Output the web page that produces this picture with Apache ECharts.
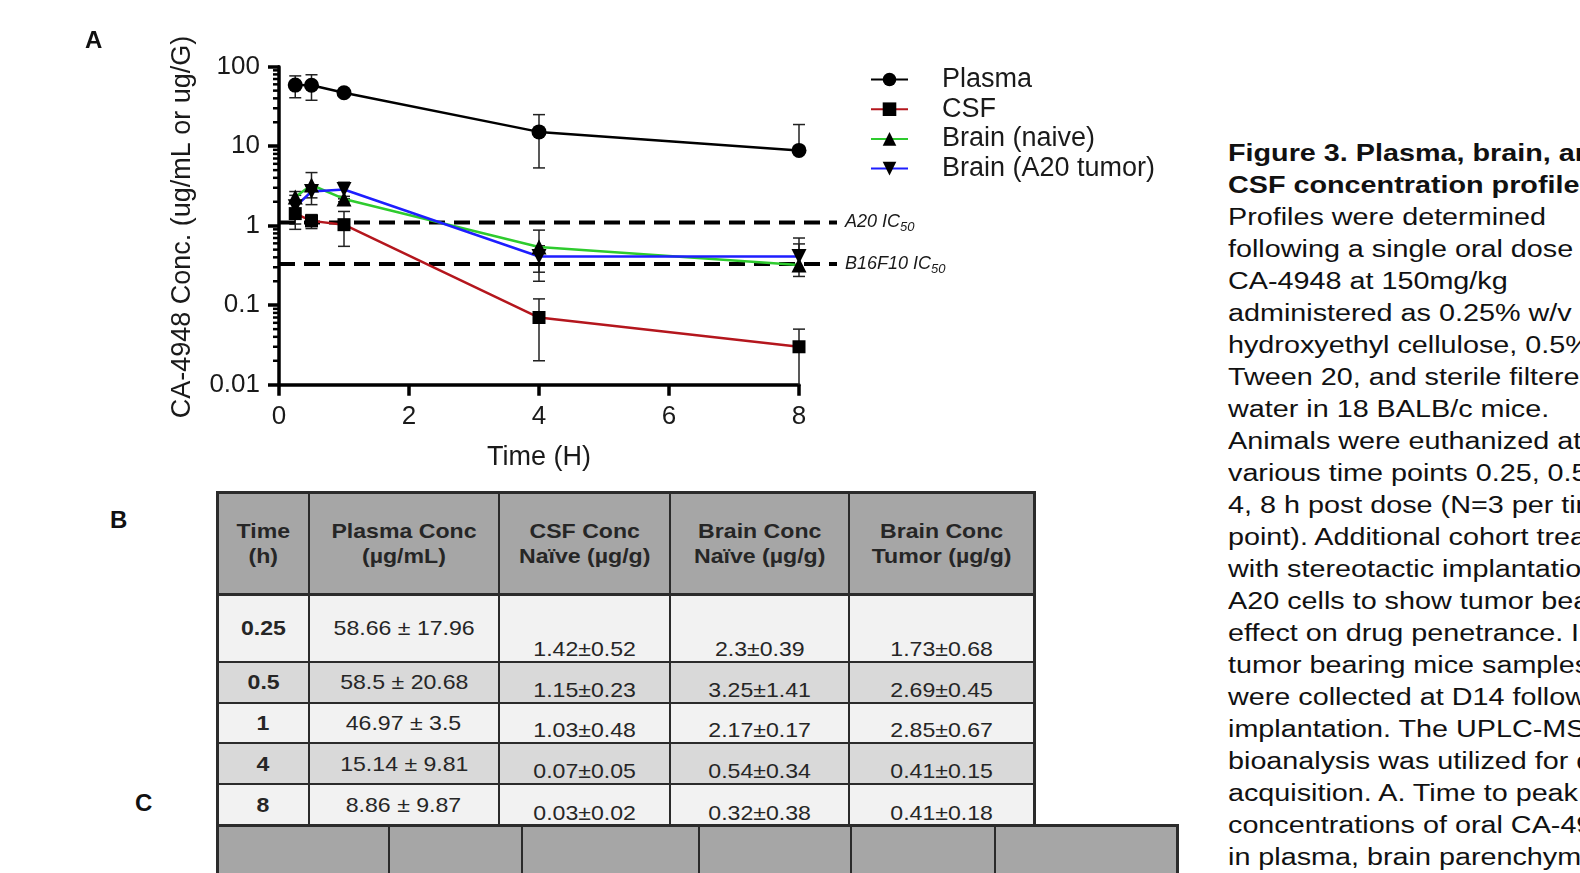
<!DOCTYPE html>
<html>
<head>
<meta charset="utf-8">
<script src="https://cdn.jsdelivr.net/npm/echarts@6/dist/echarts.min.js"></script>
<style>
  html, body { margin: 0; padding: 0; width: 1580px; height: 873px; overflow: hidden; background: #fff;
    font-family: 'Liberation Sans', Arial, sans-serif; color: #1a1a1a; }
  #chart { position: absolute; left: 0; top: 0; width: 1200px; height: 490px; }
  .panel-label { position: absolute; font-weight: bold; font-size: 24px; line-height: 24px; color: #111; }
  .cell { position: absolute; box-sizing: border-box; display: flex; justify-content: center; align-items: center;
    font-size: 21px; line-height: 24px; text-align: center; color: #262626; }
  .cell span { display: inline-block; transform: scaleX(1.1); white-space: nowrap; }
  .rule { position: absolute; background: #2b2b2b; }
  .caption { position: absolute; left: 1228px; height: 32px; white-space: nowrap; font-size: 23px; line-height: 32px;
    transform-origin: 0 50%; transform: scaleX(1.25); color: #111; }
</style>
</head>
<body>
<div id="chart"></div>
<div class="panel-label" style="left:85px;top:28px;">A</div>
<div class="panel-label" style="left:110px;top:508px;">B</div>
<div class="panel-label" style="left:135px;top:791px;">C</div>
<div id="tables"></div>
<div id="caption"></div>
<script>
// time points (h)
const times = [0.25, 0.5, 1, 4, 8];
const timeLabels = ['0.25', '0.5', '1', '4', '8'];
// mean ± sd per matrix
const plasmaMean = [58.66, 58.5, 46.97, 15.14, 8.86];
const plasmaSd = [17.96, 20.68, 3.5, 9.81, 9.87];
const csfMean = [1.42, 1.15, 1.03, 0.07, 0.03];
const csfSd = [0.52, 0.23, 0.48, 0.05, 0.02];
const naiveMean = [2.3, 3.25, 2.17, 0.54, 0.32];
const naiveSd = [0.39, 1.41, 0.17, 0.34, 0.38];
const tumorMean = [1.73, 2.69, 2.85, 0.41, 0.41];
const tumorSd = [0.68, 0.45, 0.67, 0.15, 0.18];
const seriesNames = ['Plasma', 'CSF', 'Brain (naive)', 'Brain (A20 tumor)'];
// IC50 reference levels
const ic50Names = ['A20', 'B16F10'];
const ic50Values = [1.1, 0.33];
// axes
const xTicks = [0, 2, 4, 6, 8];
const yTicks = [0.01, 0.1, 1, 10, 100];
const yMinorTicks = [0.02, 0.03, 0.04, 0.05, 0.06, 0.07, 0.08, 0.09,
  0.2, 0.3, 0.4, 0.5, 0.6, 0.7, 0.8, 0.9,
  2, 3, 4, 5, 6, 7, 8, 9,
  20, 30, 40, 50, 60, 70, 80, 90];
// table headers
const tableHeaders = [['Time', '(h)'], ['Plasma Conc', '(µg/mL)'], ['CSF Conc', 'Naïve (µg/g)'],
  ['Brain Conc', 'Naïve (µg/g)'], ['Brain Conc', 'Tumor (µg/g)']];
const captionLines = [
  'Figure 3. Plasma, brain, and',
  'CSF concentration profiles.',
  'Profiles were determined',
  'following a single oral dose of',
  'CA-4948 at 150mg/kg',
  'administered as 0.25% w/v',
  'hydroxyethyl cellulose, 0.5%',
  'Tween 20, and sterile filtered',
  'water in 18 BALB/c mice.',
  'Animals were euthanized at',
  'various time points 0.25, 0.5, 1,',
  '4, 8 h post dose (N=3 per time',
  'point). Additional cohort treated',
  'with stereotactic implantation of',
  'A20 cells to show tumor bearing',
  'effect on drug penetrance. In',
  'tumor bearing mice samples',
  'were collected at D14 following',
  'implantation. The UPLC-MS/MS',
  'bioanalysis was utilized for data',
  'acquisition. A. Time to peak',
  'concentrations of oral CA-4948',
  'in plasma, brain parenchyma'
];

const FONT = 'Liberation Sans';
const means = [plasmaMean, csfMean, naiveMean, tumorMean];
const sds = [plasmaSd, csfSd, naiveSd, tumorSd];
const lineColors = ['#000000', '#b4161d', '#2ecb2e', '#1e1eff'];
const symbols = ['circle', 'rect', 'triangle', 'triangle'];
const symbolRotates = [0, 0, 0, 180];
const symbolSizes = [15, 13, 15, 15];
const Y_MIN = yTicks[0], Y_MAX = yTicks[yTicks.length - 1];

// ---- chart A ----
const chart = echarts.init(document.getElementById('chart'), null, { renderer: 'canvas' });

const series = [];
seriesNames.forEach((name, k) => {
  // error bars
  series.push({
    type: 'custom',
    name: name + ' err',
    xAxisIndex: 0, yAxisIndex: 0,
    z: 2, silent: true,
    data: times.map((t, i) => [t, means[k][i], means[k][i] - sds[k][i], means[k][i] + sds[k][i]]),
    encode: { x: 0, y: 1 },
    renderItem(params, api) {
      const x = api.value(0), m = api.value(1), lo = api.value(2), hi = api.value(3);
      const pTop = api.coord([x, Math.min(hi, Y_MAX)]);
      const pMid = api.coord([x, m]);
      const children = [];
      const style = { stroke: '#222', lineWidth: 1.5 };
      const capW = 6;
      let pBot = pMid;
      if (lo > 0) pBot = api.coord([x, Math.max(lo, Y_MIN)]);
      children.push({ type: 'line', shape: { x1: pTop[0], y1: pTop[1], x2: pBot[0], y2: pBot[1] }, style });
      children.push({ type: 'line', shape: { x1: pTop[0] - capW, y1: pTop[1], x2: pTop[0] + capW, y2: pTop[1] }, style });
      if (lo >= Y_MIN) {
        children.push({ type: 'line', shape: { x1: pBot[0] - capW, y1: pBot[1], x2: pBot[0] + capW, y2: pBot[1] }, style });
      }
      return { type: 'group', children };
    }
  });
  series.push({
    type: 'line',
    name,
    xAxisIndex: 0, yAxisIndex: 0,
    z: 3,
    data: times.map((t, i) => [t, means[k][i]]),
    symbol: symbols[k],
    symbolSize: symbolSizes[k],
    symbolRotate: symbolRotates[k],
    showAllSymbol: true,
    itemStyle: { color: '#000' },
    lineStyle: { color: lineColors[k], width: 2.5 },
    emphasis: { disabled: true }
  });
});

// minor ticks on the log axis
series.push({
  type: 'custom',
  name: 'minor ticks',
  xAxisIndex: 0, yAxisIndex: 0,
  z: 5, silent: true, clip: false,
  data: yMinorTicks.map(v => [xTicks[0], v]),
  encode: { x: 0, y: 1 },
  renderItem(params, api) {
    const p = api.coord([api.value(0), api.value(1)]);
    return { type: 'line', shape: { x1: p[0] - 6, y1: p[1], x2: p[0], y2: p[1] },
      style: { stroke: '#000', lineWidth: 2.5 } };
  }
});

// IC50 dashed levels (drawn on a wider overlay grid)
ic50Names.forEach((name, k) => {
  series.push({
    type: 'line',
    name: name + ' IC50',
    xAxisIndex: 1, yAxisIndex: 1,
    z: 2, silent: true,
    symbol: 'none',
    data: [[0, ic50Values[k]], [1, ic50Values[k]]],
    lineStyle: { color: '#000', width: 4, type: [16, 9] },
    endLabel: {
      show: true,
      distance: 8,
      formatter: '{a|' + name + ' IC}{s|50}',
      rich: {
        a: { fontSize: 18, fontStyle: 'italic', fontFamily: FONT, color: '#1a1a1a', lineHeight: 24 },
        s: { fontSize: 13, fontStyle: 'italic', fontFamily: FONT, color: '#1a1a1a', lineHeight: 13, padding: [10, 0, 0, 0] }
      }
    }
  });
});

const option = {
  animation: false,
  grid: [
    { left: 279, top: 66.7, width: 520, height: 318, outerBoundsMode: 'none' },
    { left: 279, top: 66.7, width: 558, height: 318, outerBoundsMode: 'none' }
  ],
  xAxis: [
    {
      gridIndex: 0, type: 'value', min: xTicks[0], max: xTicks[xTicks.length - 1], interval: 2,
      axisLine: { show: true, lineStyle: { color: '#000', width: 3.5 } },
      axisTick: { show: true, length: 11, lineStyle: { color: '#000', width: 3.5 } },
      axisLabel: { fontSize: 26, fontFamily: FONT, color: '#1a1a1a', margin: 19 },
      splitLine: { show: false },
      name: 'Time (H)', nameLocation: 'middle', nameGap: 59,
      nameTextStyle: { fontSize: 27, fontFamily: FONT, color: '#1a1a1a' }
    },
    { gridIndex: 1, type: 'value', min: 0, max: 1, show: false }
  ],
  yAxis: [
    {
      gridIndex: 0, type: 'log', logBase: 10, min: Y_MIN, max: Y_MAX,
      axisLine: { show: true, lineStyle: { color: '#000', width: 3.5 } },
      axisTick: { show: true, length: 11, lineStyle: { color: '#000', width: 3.5 } },
      axisLabel: {
        fontSize: 26, fontFamily: FONT, color: '#1a1a1a', margin: 19,
        formatter: v => String(+Number(v).toPrecision(3))
      },
      splitLine: { show: false }
    },
    { gridIndex: 1, type: 'log', logBase: 10, min: Y_MIN, max: Y_MAX, show: false }
  ],
  legend: {
    orient: 'vertical', left: 870, top: 66, padding: 0, itemGap: 2.7,
    itemWidth: 37, itemHeight: 17,
    data: seriesNames,
    selectedMode: false,
    textStyle: { fontSize: 27, fontFamily: FONT, color: '#1a1a1a', lineHeight: 27, padding: [0, 0, 0, 29] }
  },
  graphic: [{
    type: 'text', x: 183, y: 227, rotation: Math.PI / 2, silent: true,
    style: { text: 'CA-4948 Conc. (ug/mL or ug/G)', fontSize: 27, fontFamily: FONT, fill: '#1a1a1a',
      align: 'center', verticalAlign: 'middle' }
  }],
  series
};
chart.setOption(option);

// ---- tables B and C ----
const tables = document.getElementById('tables');
function box(cls, x, y, w, h, bg, html) {
  const d = document.createElement('div');
  d.className = cls;
  d.style.left = x + 'px'; d.style.top = y + 'px';
  d.style.width = w + 'px'; d.style.height = h + 'px';
  if (bg) d.style.background = bg;
  if (html !== undefined) d.innerHTML = html;
  tables.appendChild(d);
  return d;
}
function hRule(x1, x2, y, t) { box('rule', x1 - t / 2, y - t / 2, x2 - x1 + t, t); }
function vRule(x, y1, y2, t) { box('rule', x - t / 2, y1 - t / 2, t, y2 - y1 + t); }

const colX = [217.7, 308.7, 499, 670, 848.6, 1034.7];
const rowY = [492.7, 594, 662.3, 702.7, 743.3, 784, 825.7];
const rowFill = ['#f2f2f2', '#d9d9d9', '#f2f2f2', '#d9d9d9', '#f2f2f2'];

// header
tableHeaders.forEach((h, j) => {
  box('cell', colX[j], rowY[0], colX[j + 1] - colX[j], rowY[1] - rowY[0], '#a6a6a6',
    '<span style="font-weight:bold;line-height:25px;">' + h[0] + '<br>' + h[1] + '</span>');
});
// body
times.forEach((t, i) => {
  const y = rowY[i + 1], h = rowY[i + 2] - rowY[i + 1];
  const cells = [
    '<span style="font-weight:bold;">' + timeLabels[i] + '</span>',
    '<span>' + plasmaMean[i] + ' ± ' + plasmaSd[i] + '</span>',
    '<span>' + csfMean[i] + '±' + csfSd[i] + '</span>',
    '<span>' + naiveMean[i] + '±' + naiveSd[i] + '</span>',
    '<span>' + tumorMean[i] + '±' + tumorSd[i] + '</span>'
  ];
  cells.forEach((html, j) => {
    const c = box('cell', colX[j], y, colX[j + 1] - colX[j], h, rowFill[i], html);
    if (j >= 2) { c.style.alignItems = 'flex-end'; c.style.paddingBottom = '1px'; }
  });
});
rowY.forEach((y, i) => hRule(colX[0], colX[colX.length - 1], y, (i <= 1) ? 3 : 2));
colX.forEach((x, j) => vRule(x, rowY[0], rowY[rowY.length - 1], (j === 0 || j === colX.length - 1) ? 3 : 2));

// table C (only its header band is visible)
const colC = [217.7, 389, 522, 699, 851, 994.6, 1177];
const topC = 825.7, botC = 900;
for (let j = 0; j < colC.length - 1; j++) box('cell', colC[j], topC, colC[j + 1] - colC[j], botC - topC, '#a6a6a6');
hRule(colC[0], colC[colC.length - 1], topC, 3);
colC.forEach((x, j) => vRule(x, topC, botC, (j === 0 || j === colC.length - 1) ? 3 : 2));

// ---- caption ----
const cap = document.getElementById('caption');
captionLines.forEach((line, i) => {
  const d = document.createElement('div');
  d.className = 'caption';
  d.style.top = (153.3 + i * 32 - 16) + 'px';
  if (i < 2) d.style.fontWeight = 'bold';
  d.textContent = line;
  cap.appendChild(d);
});
</script>
</body>
</html>
